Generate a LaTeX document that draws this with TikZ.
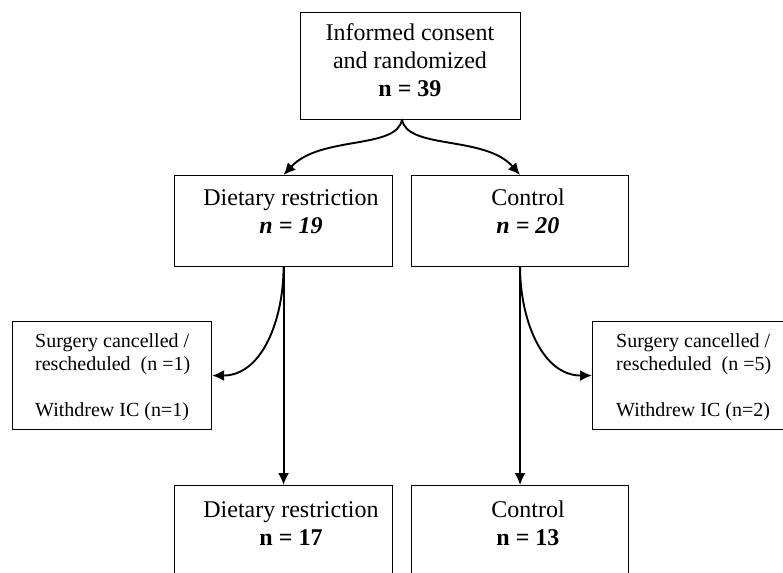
\documentclass[tikz,border=0pt]{standalone}
\usepackage{fontspec}
\setmainfont{Liberation Serif}
\usetikzlibrary{arrows.meta}
\begin{document}
\begin{tikzpicture}[x=1pt,y=-1pt,
  box/.style={draw, line width=1.1pt, inner sep=0pt, anchor=north west},
  big/.style={font=\fontsize{24}{28}\selectfont, align=center, inner sep=0pt, anchor=base},
  small/.style={font=\fontsize{20}{23}\selectfont, align=left, inner sep=0pt, anchor=base west},
  arr/.style={line width=1.9pt, -{Latex[length=12pt,width=11pt]}}]
\useasboundingbox (0,0) rectangle (783,572);
\clip (0,0) rectangle (783,572);
% boxes
\node[box, minimum width=220pt, minimum height=107pt] (top) at (300,12) {};
\node[box, minimum width=218pt, minimum height=91pt] (dr) at (174,175) {};
\node[box, minimum width=217pt, minimum height=91pt] (ct) at (411,175) {};
\node[box, minimum width=199pt, minimum height=108pt] (sl) at (12,321) {};
\node[box, minimum width=200pt, minimum height=108pt] (sr) at (592,321) {};
\node[box, minimum width=218pt, minimum height=120pt] (dr2) at (174,485) {};
\node[box, minimum width=217pt, minimum height=120pt] (ct2) at (411,485) {};
% texts (anchored at the baseline of the last line)
\node[big] (t1) at (410,97) {Informed consent\\and randomized\\\textbf{n = 39}};
\node[big] (t2) at (291,233) {Dietary restriction\\\textbf{\textit{n = 19}}};
\node[big] (t3) at (528,233) {Control\\\textbf{\textit{n = 20}}};
\node[small] (t4) at (35,416) {Surgery cancelled /\\rescheduled\ \ (n =1)\\[23pt]Withdrew IC (n=1)};
\node[small] (t5) at (616,416) {Surgery cancelled /\\rescheduled\ \ (n =5)\\[23pt]Withdrew IC (n=2)};
\node[big] (t6) at (291,545) {Dietary restriction\\\textbf{n = 17}};
\node[big] (t7) at (528,545) {Control\\\textbf{n = 13}};
% connectors
\coordinate (split) at (402,119);
\draw[arr] (split) .. controls +(-4,31) and +(37,-40) .. (dr.north);
\draw[arr] (split) .. controls +(4,31) and +(-35,-40) .. (ct.north);
\draw[arr] (dr.south) to[out=-90,in=0] (sl.east);
\draw[arr] (ct.south) to[out=-90,in=180] (sr.west);
\draw[arr] (dr.south) -- (dr2.north);
\draw[arr] (ct.south) -- (ct2.north);
\end{tikzpicture}
\end{document}
